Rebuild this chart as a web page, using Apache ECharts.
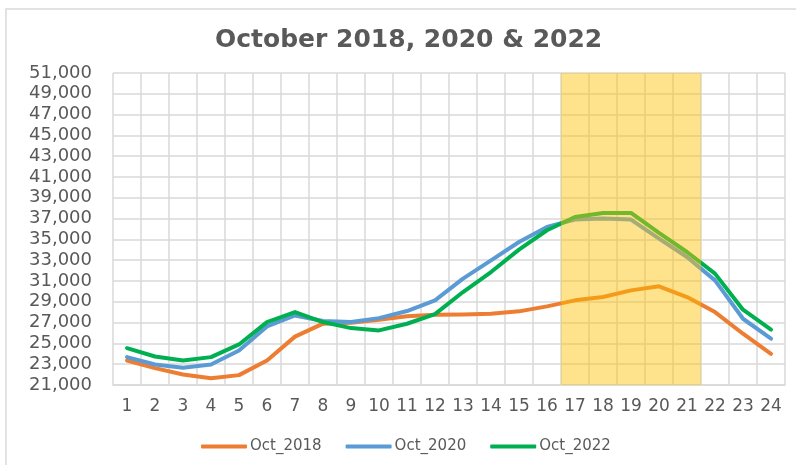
<!DOCTYPE html>
<html>
<head>
<meta charset="utf-8">
<script src="https://cdn.jsdelivr.net/npm/echarts@6/dist/echarts.min.js"></script>
<style>
  html, body { margin: 0; padding: 0; background: #fff; }
  #chart { width: 796px; height: 465px; }
</style>
</head>
<body>
<div id="chart"></div>
<script>
// hours of the day
const hours = ['1', '2', '3', '4', '5', '6', '7', '8', '9', '10', '11', '12',
  '13', '14', '15', '16', '17', '18', '19', '20', '21', '22', '23', '24']

const oct2018 = [23360, 22620, 22010, 21650, 21950, 23360, 25650, 26900, 26990, 27280, 27600, 27760,
  27790, 27860, 28080, 28560, 29140, 29460, 30100, 30490, 29460, 28010, 25930, 24000]
const oct2020 = [23680, 22970, 22650, 22970, 24320, 26630, 27690, 27150, 27050, 27430, 28110, 29130,
  31230, 32990, 34750, 36200, 36910, 37000, 36910, 35080, 33310, 31060, 27370, 25450]
const oct2022 = [24540, 23740, 23360, 23680, 24900, 27050, 28010, 27050, 26470, 26250, 26890, 27810,
  29940, 31860, 34020, 35880, 37160, 37540, 37540, 35620, 33790, 31710, 28240, 26320]

// highlighted hours (yellow band)
const peakHours = ['17', '18', '19', '20', '21']

// y tick labels
const yTicks = [21000, 23000, 25000, 27000, 29000, 31000, 33000, 35000,
  37000, 39000, 41000, 43000, 45000, 47000, 49000, 51000]

const chart = echarts.init(document.getElementById('chart'))

const gray = '#595959'
const gridColor = '#d9d9d9'
const yMin = yTicks[0]
const yMax = yTicks[yTicks.length - 1]

const bandData = hours.map(h => (peakHours.includes(h) ? yMax : '-'))

const lineSeries = (name, data, color) => ({
  name: name,
  type: 'line',
  data: data,
  symbol: 'none',
  smooth: false,
  z: 2,
  color: color,
  lineStyle: { width: 4, color: color, cap: 'round', join: 'round' }
})

const option = {
  animation: false,
  backgroundColor: '#fff',
  title: {
    text: 'October 2018, 2020 & 2022',
    left: 210,
    top: 23,
    textStyle: {
      fontFamily: 'DejaVu Sans',
      fontSize: 25,
      fontWeight: 'bold',
      color: gray
    }
  },
  graphic: [
    {
      type: 'rect',
      shape: { x: 6, y: 9, width: 1000, height: 1000 },
      style: { fill: 'transparent', stroke: gridColor, lineWidth: 1.5 },
      silent: true
    }
  ],
  legend: {
    left: 196,
    top: 434,
    icon: 'roundRect',
    itemWidth: 46,
    itemHeight: 4,
    itemGap: 24,
    data: ['Oct_2018', 'Oct_2020', 'Oct_2022'],
    textStyle: { fontFamily: 'DejaVu Sans', fontSize: 15, color: gray, padding: [0, 0, 0, -2] }
  },
  grid: {
    left: 113,
    right: 11,
    top: 73,
    bottom: 80
  },
  xAxis: {
    type: 'category',
    data: hours,
    boundaryGap: true,
    axisLine: { show: true, lineStyle: { color: gridColor, width: 1.5 } },
    axisTick: { show: false },
    splitLine: { show: true, lineStyle: { color: gridColor, width: 1.5 } },
    axisLabel: {
      margin: 13,
      interval: 0,
      fontFamily: 'DejaVu Sans',
      fontSize: 17,
      color: gray
    }
  },
  yAxis: {
    type: 'value',
    min: yMin,
    max: yMax,
    axisLine: { show: false },
    axisTick: { show: false, customValues: yTicks },
    splitLine: { show: true, lineStyle: { color: gridColor, width: 1.5 } },
    axisLabel: {
      customValues: yTicks,
      margin: 21,
      fontFamily: 'DejaVu Sans',
      fontSize: 18,
      color: gray,
      formatter: v => v.toLocaleString('en-US')
    }
  },
  series: [
    lineSeries('Oct_2018', oct2018, '#ED7D31'),
    lineSeries('Oct_2020', oct2020, '#5B9BD5'),
    lineSeries('Oct_2022', oct2022, '#00B050'),
    {
      name: 'peak',
      type: 'bar',
      data: bandData,
      barWidth: '100%',
      barCategoryGap: '0%',
      silent: true,
      z: 3,
      itemStyle: { color: 'rgba(255, 192, 0, 0.45)' }
    }
  ]
}

chart.setOption(option)
</script>
</body>
</html>
